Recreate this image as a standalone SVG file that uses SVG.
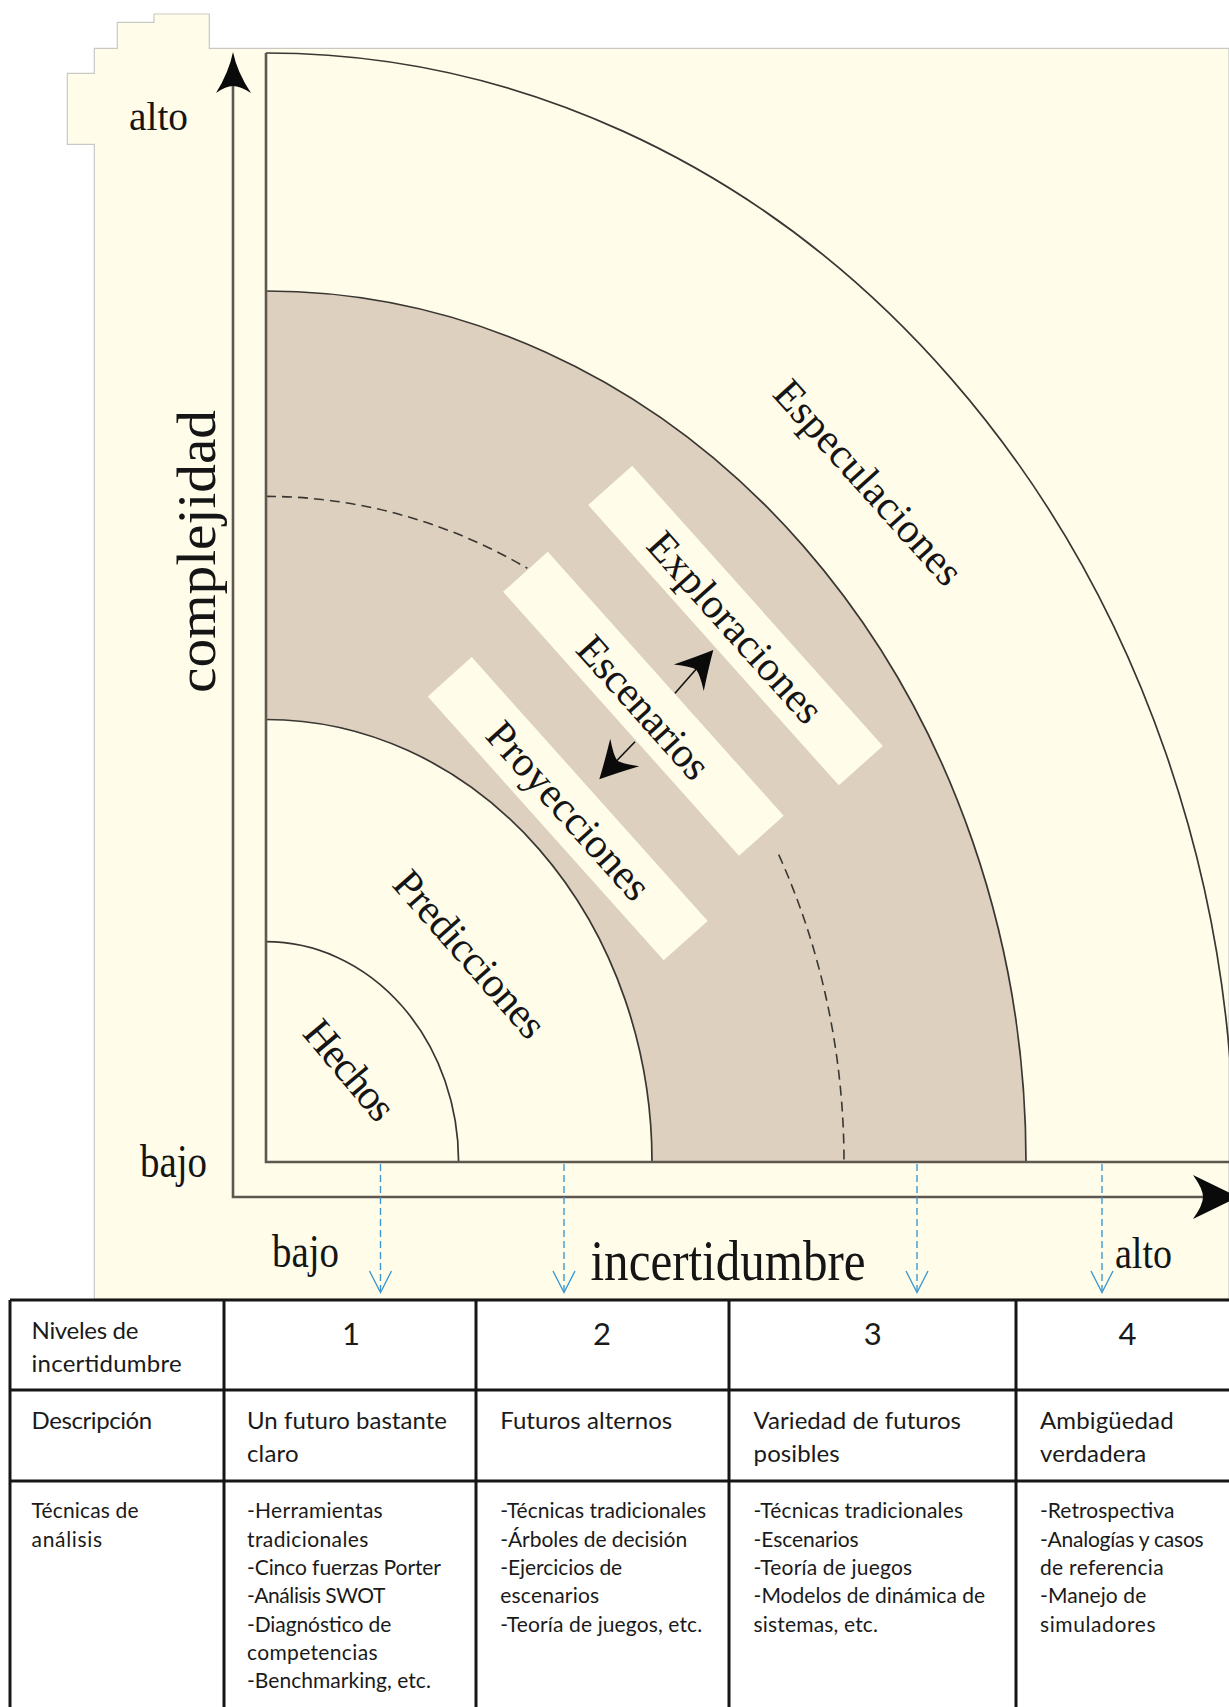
<svg xmlns="http://www.w3.org/2000/svg" width="1229" height="1707" viewBox="0 0 1229 1707">
  <defs>
    <style>
      .ax { font-family: "Liberation Serif", "Times New Roman", serif; fill: #151515; }
      .lbl { font-family: "Liberation Serif", "Times New Roman", serif; font-size: 42px; fill: #151515; }
      .arc { fill: none; stroke: #3a3632; stroke-width: 1.7; }
      .dash { fill: none; stroke: #3a3632; stroke-width: 1.6; stroke-dasharray: 10 6; }
      .frame { stroke: #5e5750; stroke-width: 2.6; fill: none; }
      .box { fill: #fffdea; }
      .blue { fill: none; stroke: #3d98d2; stroke-width: 1.4; }
      .blue-d { fill: none; stroke: #3d98d2; stroke-width: 1.4; stroke-dasharray: 7 4; }
      .tl { stroke: #161616; stroke-width: 3; fill: none; }
      .th { font-family: Lato, "Open Sans", sans-serif; font-size: 24px; fill: #1a1a1a; }
      .tn { font-family: Lato, "Open Sans", sans-serif; font-size: 31px; fill: #1a1a1a; text-anchor: middle; }
      .ts { font-family: Lato, "Open Sans", sans-serif; font-size: 21px; fill: #1a1a1a; }
      .head { fill: #0a0a0a; }
    </style>
    <path id="stealth" d="M0,0 Q-16,-8 -37,-20 Q-27,-6 -26,0 Q-27,6 -37,20 Q-16,8 0,0 Z"/>
  </defs>

  <!-- page -->
  <rect x="0" y="0" width="1229" height="1707" fill="#ffffff"/>

  <!-- cream background with stepped top-left -->
  <g id="background">
    <path d="M154,14 L209.3,14 L209.3,48.3 L1229,48.3 L1229,1299 L94.3,1299 L94.3,144.3 L67.3,144.3 L67.3,73.3 L94.3,73.3 L94.3,48.3 L117.3,48.3 L117.3,22.3 L154,22.3 Z" fill="#fffdea" stroke="#c9c9c4" stroke-width="1.2"/>
  </g>

  <!-- regions -->
  <g id="regions">
    <path d="M266,291 A760,871 0 0 1 1026,1162 L652,1162 A386,442.5 0 0 0 266,719.5 Z" fill="#ddd0bf"/>
    <path class="arc" d="M266,53 A968,1109 0 0 1 1234,1162"/>
    <path class="arc" d="M266,291 A760,871 0 0 1 1026,1162"/>
    <path class="arc" d="M266,719.5 A386,442.5 0 0 1 652,1162"/>
    <path class="arc" d="M266,941.7 A192.6,220.3 0 0 1 458.6,1162"/>
    <path class="dash" d="M266,496.4 A578,665.6 0 0 1 527.4,568.3"/>
    <path class="dash" d="M778.7,854.7 A578,665.6 0 0 1 844,1162"/>
  </g>

  <!-- region labels -->
  <g id="node-especulaciones">
    <text class="lbl" text-anchor="middle" textLength="260" transform="translate(858.3,491.7) rotate(48)">Especulaciones</text>
  </g>
  <g id="node-exploraciones">
    <rect class="box" x="-188" y="-29.5" width="376" height="59" transform="translate(735.5,625.5) rotate(48.2)"/>
    <text class="lbl" text-anchor="middle" textLength="241" transform="translate(725,636.7) rotate(48.2)">Exploraciones</text>
  </g>
  <g id="node-escenarios">
    <rect class="box" x="-177" y="-30" width="354" height="60" transform="translate(643.4,703.8) rotate(48.2)"/>
    <text class="lbl" text-anchor="middle" textLength="177" transform="translate(633.3,716.7) rotate(48.2)">Escenarios</text>
  </g>
  <g id="node-proyecciones">
    <rect class="box" x="-177" y="-29.5" width="354" height="59" transform="translate(567.7,808.7) rotate(48.2)"/>
    <text class="lbl" text-anchor="middle" textLength="224" transform="translate(558.3,820) rotate(48.2)">Proyecciones</text>
  </g>
  <g id="node-predicciones">
    <text class="lbl" text-anchor="middle" textLength="208" transform="translate(459.5,963.3) rotate(48.7)">Predicciones</text>
  </g>
  <g id="node-hechos">
    <text class="lbl" text-anchor="middle" textLength="118" transform="translate(339.2,1079.2) rotate(50)">Hechos</text>
  </g>

  <!-- axes and frame -->
  <g id="axes">
    <path class="frame" d="M266,53 L266,1162 L1229,1162"/>
    <path class="frame" d="M233,84 L233,1197 L1205,1197"/>
    <path class="head" d="M233,52 Q237,72 251,93 Q240,86 233,86 Q226,86 216,93 Q229,72 233,52 Z"/>
    <path class="head" d="M1238,1197 L1193,1175 Q1203,1189 1203,1197 Q1203,1205 1193,1219 Z"/>
    <text class="ax" x="129" y="130" font-size="40" textLength="59" lengthAdjust="spacingAndGlyphs">alto</text>
    <text class="ax" x="140" y="1177" font-size="46" textLength="67" lengthAdjust="spacingAndGlyphs">bajo</text>
    <text class="ax" font-size="54" textLength="283" lengthAdjust="spacingAndGlyphs" transform="translate(215,693) rotate(-90)">complejidad</text>
    <text class="ax" x="272" y="1267" font-size="47" textLength="67" lengthAdjust="spacingAndGlyphs">bajo</text>
    <text class="ax" x="590.5" y="1280" font-size="56" textLength="275" lengthAdjust="spacingAndGlyphs">incertidumbre</text>
    <text class="ax" x="1115" y="1268" font-size="44" textLength="57" lengthAdjust="spacingAndGlyphs">alto</text>
  </g>

  <!-- connectors -->
  <g id="connectors">
    <line x1="675" y1="693.3" x2="698" y2="667" stroke="#111" stroke-width="1.6"/>
    <use href="#stealth" class="head" transform="translate(713.3,650) rotate(-48.5)"/>
    <line x1="635" y1="741.7" x2="614" y2="763.5" stroke="#111" stroke-width="1.6"/>
    <use href="#stealth" class="head" transform="translate(599.3,779.3) rotate(133.5)"/>

    <line class="blue-d" x1="380.5" y1="1164" x2="380.5" y2="1291"/>
    <polyline class="blue" points="369.5,1271 380.5,1292.5 391.5,1271"/>
    <line class="blue-d" x1="564" y1="1164" x2="564" y2="1291"/>
    <polyline class="blue" points="553,1271 564,1292.5 575,1271"/>
    <line class="blue-d" x1="917" y1="1164" x2="917" y2="1291"/>
    <polyline class="blue" points="906,1271 917,1292.5 928,1271"/>
    <line class="blue-d" x1="1102" y1="1164" x2="1102" y2="1291"/>
    <polyline class="blue" points="1091,1271 1102,1292.5 1113,1271"/>
  </g>

  <!-- table -->
  <g id="table">
    <rect x="0" y="1299" width="1229" height="408" fill="#ffffff"/>
    <path class="tl" d="M10,1300 L1229,1300 M10,1390 L1229,1390 M10,1481 L1229,1481 M10,1300 L10,1707 M224,1300 L224,1707 M476,1300 L476,1707 M729,1300 L729,1707 M1016,1300 L1016,1707"/>

    <text class="th" x="31.6" y="1339" textLength="106.8">Niveles de</text>
    <text class="th" x="31.6" y="1372" textLength="150">incertidumbre</text>
    <text class="tn" x="351" y="1345">1</text>
    <text class="tn" x="602" y="1345">2</text>
    <text class="tn" x="872.7" y="1345">3</text>
    <text class="tn" x="1127.5" y="1345">4</text>

    <text class="th" x="31.6" y="1429" textLength="120.6">Descripción</text>
    <text class="th" x="247" y="1429" textLength="200">Un futuro bastante</text>
    <text class="th" x="247" y="1462" textLength="51.5">claro</text>
    <text class="th" x="500.2" y="1429" textLength="172">Futuros alternos</text>
    <text class="th" x="753.6" y="1429" textLength="207.4">Variedad de futuros</text>
    <text class="th" x="753.6" y="1462" textLength="86">posibles</text>
    <text class="th" x="1040" y="1429" textLength="133.6">Ambigüedad</text>
    <text class="th" x="1040" y="1462" textLength="106.3">verdadera</text>

    <text class="ts" x="31.6" y="1518.3" textLength="107">Técnicas de</text>
    <text class="ts" x="31.6" y="1546.7" textLength="70.4">análisis</text>

    <text class="ts" x="247" y="1518.3" textLength="135.7">-Herramientas</text>
    <text class="ts" x="247" y="1546.7" textLength="121.4">tradicionales</text>
    <text class="ts" x="247" y="1575" textLength="194">-Cinco fuerzas Porter</text>
    <text class="ts" x="247" y="1603.3" textLength="138.4">-Análisis SWOT</text>
    <text class="ts" x="247" y="1631.7" textLength="144.3">-Diagnóstico de</text>
    <text class="ts" x="247" y="1660" textLength="130.5">competencias</text>
    <text class="ts" x="247" y="1688.3" textLength="183.9">-Benchmarking, etc.</text>

    <text class="ts" x="500.2" y="1518.3" textLength="206">-Técnicas tradicionales</text>
    <text class="ts" x="500.2" y="1546.7" textLength="187">-Árboles de decisión</text>
    <text class="ts" x="500.2" y="1575" textLength="122">-Ejercicios de</text>
    <text class="ts" x="500.2" y="1603.3" textLength="99">escenarios</text>
    <text class="ts" x="500.2" y="1631.7" textLength="202">-Teoría de juegos, etc.</text>

    <text class="ts" x="753.6" y="1518.3" textLength="209.4">-Técnicas tradicionales</text>
    <text class="ts" x="753.6" y="1546.7" textLength="105">-Escenarios</text>
    <text class="ts" x="753.6" y="1575" textLength="158.5">-Teoría de juegos</text>
    <text class="ts" x="753.6" y="1603.3" textLength="231.5">-Modelos de dinámica de</text>
    <text class="ts" x="753.6" y="1631.7" textLength="124.4">sistemas, etc.</text>

    <text class="ts" x="1040" y="1518.3" textLength="134.4">-Retrospectiva</text>
    <text class="ts" x="1040" y="1546.7" textLength="163.7">-Analogías y casos</text>
    <text class="ts" x="1040" y="1575" textLength="123.6">de referencia</text>
    <text class="ts" x="1040" y="1603.3" textLength="106.3">-Manejo de</text>
    <text class="ts" x="1040" y="1631.7" textLength="115.5">simuladores</text>
  </g>
</svg>
